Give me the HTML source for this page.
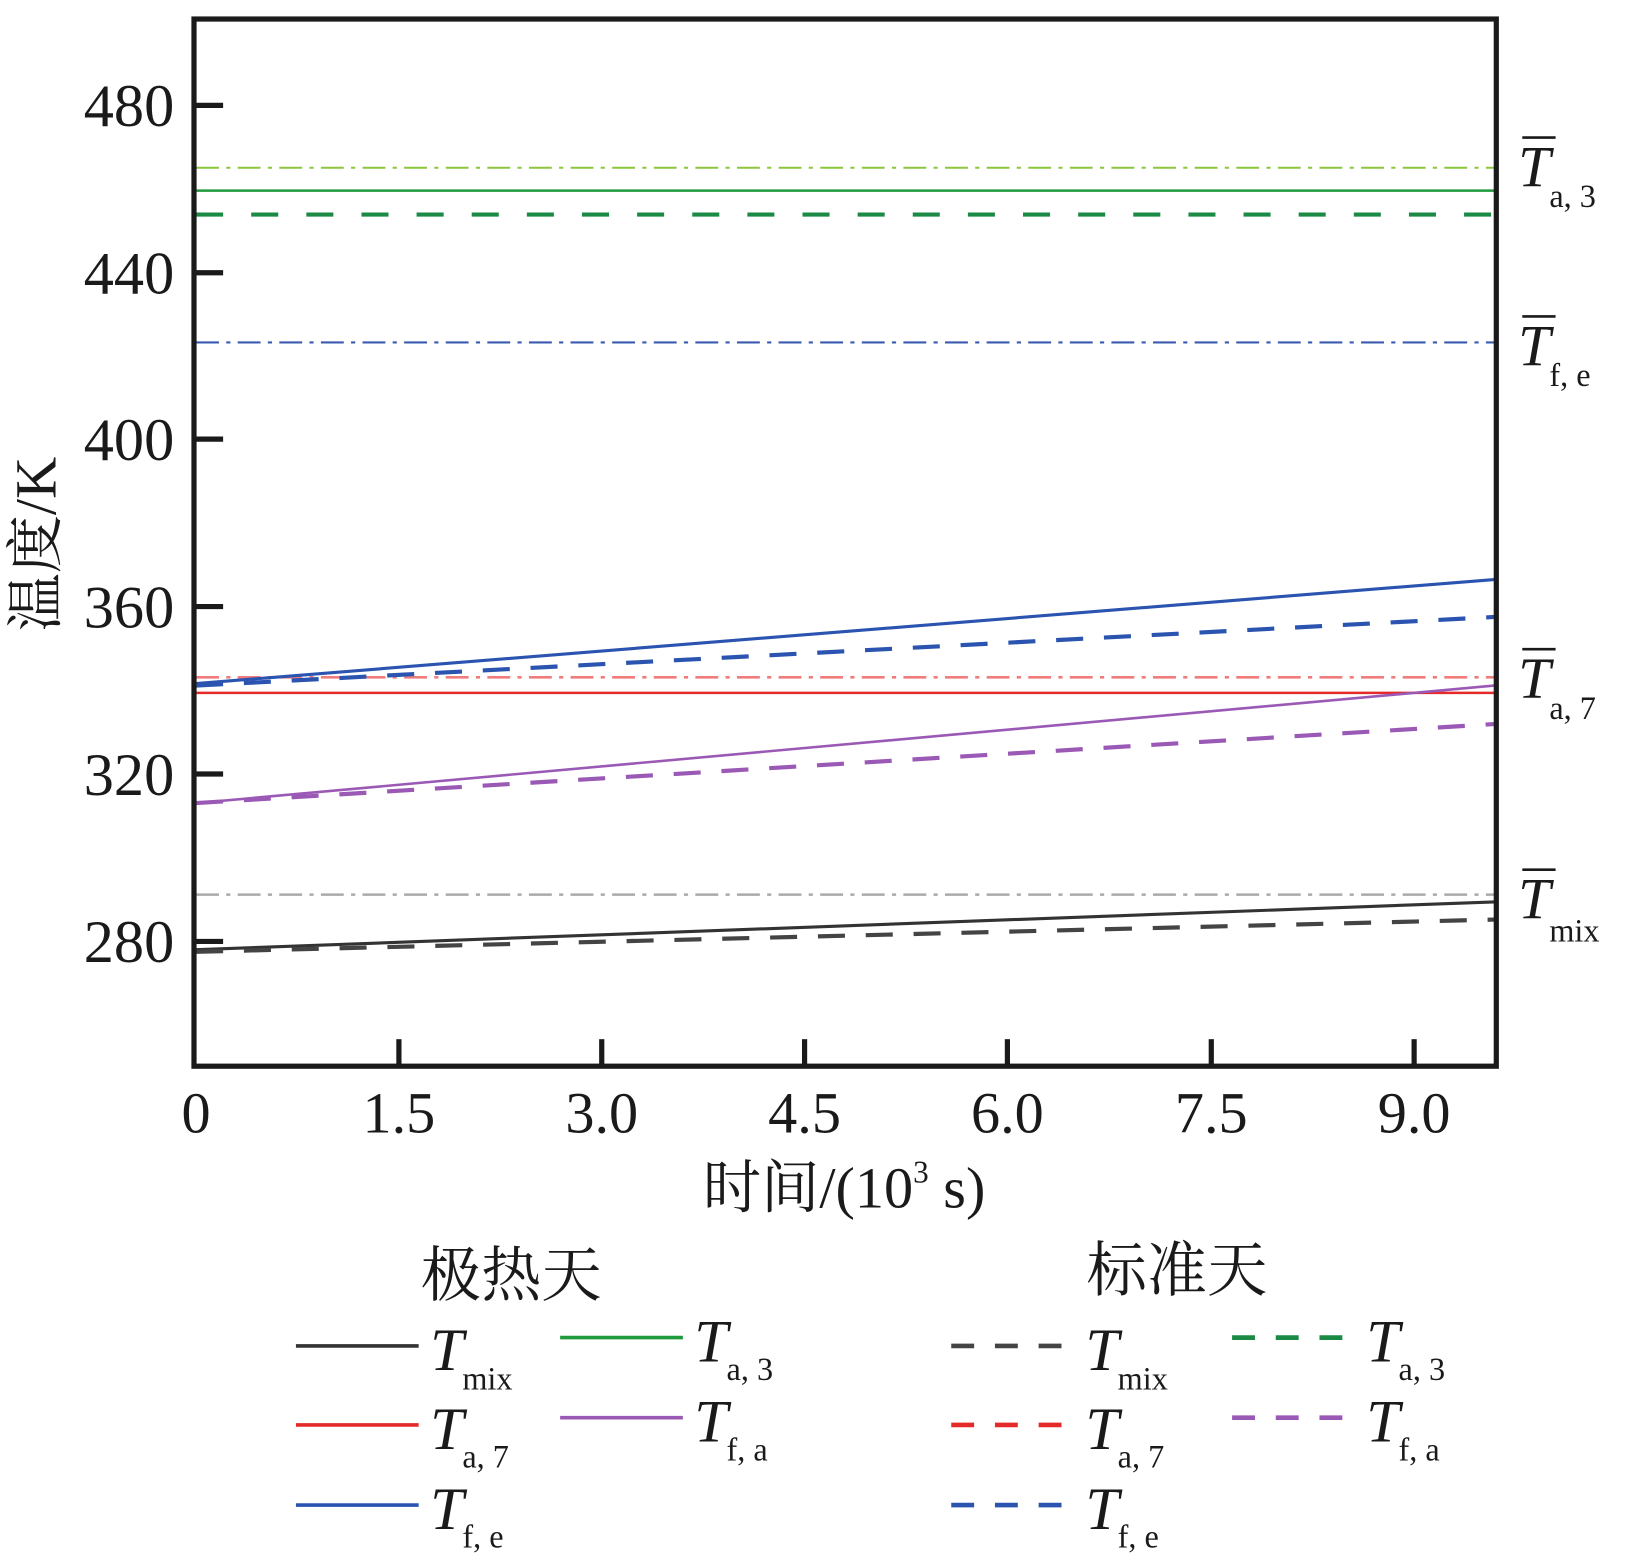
<!DOCTYPE html>
<html><head><meta charset="utf-8"><style>body{margin:0;background:#fff}svg{display:block}</style></head><body>
<svg width="1631" height="1564" viewBox="-1.5 -1.3 1568 1504" preserveAspectRatio="none" xmlns="http://www.w3.org/2000/svg" font-family="Liberation Serif, Noto Serif CJK SC, serif">
<g fill="none">
<line x1="187" y1="160" x2="1435" y2="160" stroke="#8cc63f" stroke-width="2" stroke-dasharray="22,7,4,7"/>
<line x1="187" y1="182" x2="1435" y2="182" stroke="#1f9a3c" stroke-width="2.5"/>
<line x1="187" y1="205" x2="1435" y2="205" stroke="#1a8a45" stroke-width="4" stroke-dasharray="26,27"/>
<line x1="187" y1="328" x2="1435" y2="328" stroke="#3a5bb0" stroke-width="2" stroke-dasharray="22,7,4,7"/>
<line x1="187" y1="650" x2="1435" y2="650" stroke="#f07c7c" stroke-width="2.5" stroke-dasharray="22,7,4,7"/>
<line x1="187" y1="665" x2="1435" y2="665" stroke="#e52a2a" stroke-width="2.5"/>
<line x1="187" y1="859" x2="1435" y2="859" stroke="#aaaaaa" stroke-width="2.5" stroke-dasharray="22,7,4,7"/>
<line x1="187" y1="656" x2="1435" y2="556" stroke="#2a54b0" stroke-width="3"/>
<line x1="187" y1="658" x2="1435" y2="592" stroke="#2a54b0" stroke-width="4" stroke-dasharray="26,20"/>
<line x1="187" y1="771" x2="1435" y2="658" stroke="#9b59b6" stroke-width="2.5"/>
<line x1="187" y1="771" x2="1435" y2="695" stroke="#9b59b6" stroke-width="4" stroke-dasharray="26,20"/>
<line x1="187" y1="912" x2="1435" y2="866" stroke="#333" stroke-width="3"/>
<line x1="187" y1="914" x2="1435" y2="883" stroke="#444" stroke-width="4" stroke-dasharray="26,20"/>
<rect x="185" y="17" width="1252" height="1007" stroke="#1a1a1a" stroke-width="5"/>
<g stroke="#1a1a1a" stroke-width="5">
<line x1="185" y1="100" x2="213" y2="100"/><line x1="185" y1="261" x2="213" y2="261"/><line x1="185" y1="421" x2="213" y2="421"/><line x1="185" y1="582" x2="213" y2="582"/><line x1="185" y1="743" x2="213" y2="743"/><line x1="185" y1="904" x2="213" y2="904"/>
<line x1="382" y1="1024" x2="382" y2="998"/><line x1="577" y1="1024" x2="577" y2="998"/><line x1="772" y1="1024" x2="772" y2="998"/><line x1="967" y1="1024" x2="967" y2="998"/><line x1="1163" y1="1024" x2="1163" y2="998"/><line x1="1358" y1="1024" x2="1358" y2="998"/>
</g>
</g>
<g font-size="58" fill="#1a1a1a" text-anchor="end">
<text x="166" y="120">480</text><text x="166" y="281">440</text><text x="166" y="441">400</text><text x="166" y="602">360</text><text x="166" y="763">320</text><text x="166" y="924">280</text>
</g>
<g font-size="56" fill="#1a1a1a" text-anchor="middle">
<text x="187" y="1088">0</text><text x="382" y="1088">1.5</text><text x="577" y="1088">3.0</text><text x="772" y="1088">4.5</text><text x="967" y="1088">6.0</text><text x="1163" y="1088">7.5</text><text x="1358" y="1088">9.0</text>
<text x="810" y="1160" font-size="56">时间/(10<tspan font-size="30" dy="-24">3</tspan><tspan dy="24"> s)</tspan></text>
</g>
<text transform="translate(52,522) rotate(-90)" font-size="56" text-anchor="middle" fill="#1a1a1a">温度/K</text>
<g fill="#1a1a1a">
<g font-size="56" font-style="italic"><text x="1458" y="178">T</text><text x="1458" y="350">T</text><text x="1458" y="670">T</text><text x="1458" y="882">T</text></g>
<g stroke="#1a1a1a" stroke-width="2.5"><line x1="1462" y1="131" x2="1494" y2="131"/><line x1="1462" y1="303" x2="1494" y2="303"/><line x1="1462" y1="623" x2="1494" y2="623"/><line x1="1462" y1="835" x2="1494" y2="835"/></g>
<g font-size="31"><text x="1488" y="198">a, 3</text><text x="1488" y="370">f, e</text><text x="1488" y="690">a, 7</text><text x="1488" y="904">mix</text></g>
</g>
<g font-size="58" fill="#1a1a1a" text-anchor="middle"><text x="490" y="1245">极热天</text><text x="1130" y="1240">标准天</text></g>
<g stroke-width="3.5" fill="none">
<line x1="283" y1="1293" x2="401" y2="1293" stroke="#333"/>
<line x1="283" y1="1369" x2="401" y2="1369" stroke="#e52a2a"/>
<line x1="283" y1="1446" x2="401" y2="1446" stroke="#2a54b0"/>
<line x1="537" y1="1285" x2="655" y2="1285" stroke="#1f9a3c"/>
<line x1="537" y1="1362" x2="655" y2="1362" stroke="#9b59b6"/>
<g stroke-dasharray="22,20" stroke-width="4.5">
<line x1="913" y1="1293" x2="1035" y2="1293" stroke="#444"/>
<line x1="913" y1="1369" x2="1035" y2="1369" stroke="#e52a2a"/>
<line x1="913" y1="1446" x2="1035" y2="1446" stroke="#2a54b0"/>
<line x1="1183" y1="1285" x2="1305" y2="1285" stroke="#1a8a45"/>
<line x1="1183" y1="1362" x2="1305" y2="1362" stroke="#9b59b6"/>
</g>
</g>
<g fill="#1a1a1a">
<g font-size="58" font-style="italic">
<text x="412" y="1316">T</text><text x="412" y="1392">T</text><text x="412" y="1469">T</text><text x="666" y="1308">T</text><text x="666" y="1385">T</text>
<text x="1042" y="1316">T</text><text x="1042" y="1392">T</text><text x="1042" y="1469">T</text><text x="1312" y="1308">T</text><text x="1312" y="1385">T</text>
</g>
<g font-size="31">
<text x="443" y="1335">mix</text><text x="443" y="1410">a, 7</text><text x="443" y="1487">f, e</text><text x="697" y="1326">a, 3</text><text x="697" y="1403">f, a</text>
<text x="1073" y="1335">mix</text><text x="1073" y="1410">a, 7</text><text x="1073" y="1487">f, e</text><text x="1343" y="1326">a, 3</text><text x="1343" y="1403">f, a</text>
</g>
</g>
</svg>
</body></html>
